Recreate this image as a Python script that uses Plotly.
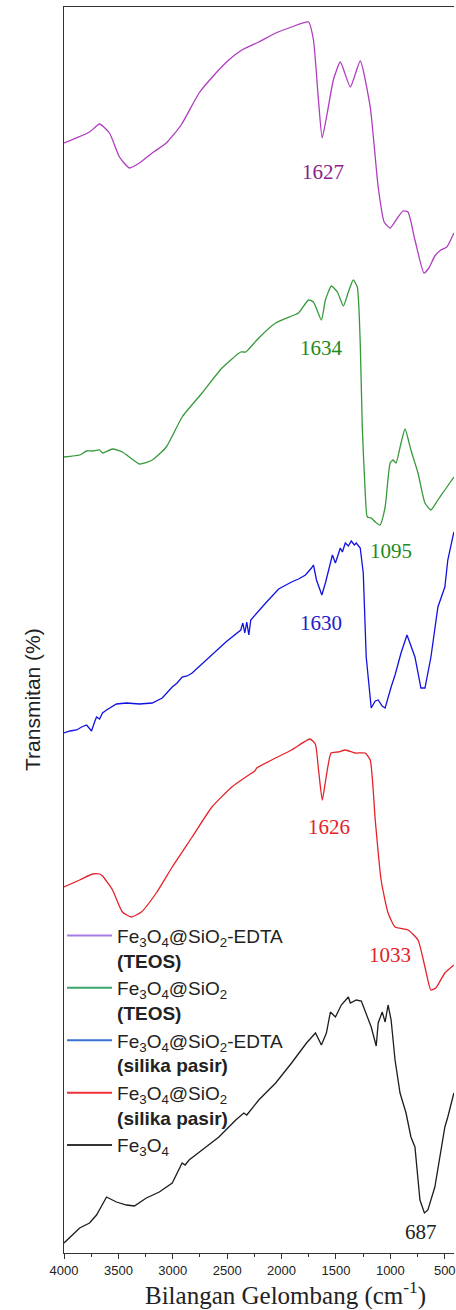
import plotly.graph_objects as go

# FTIR spectra, offset vertically (arbitrary transmittance units)
wn_edta_teos = [4000, 3765, 3673, 3582, 3490, 3399, 3307, 3189, 3060, 2923, 2758, 2603, 2485,
                2365, 2210, 2054, 1908, 1752, 1707, 1661, 1627, 1580, 1524, 1460, 1368, 1277,
                1185, 1112, 1057, 1002, 929, 884, 838, 774, 691, 646, 591, 536, 481, 416]
t_edta_teos = [1110, 1121, 1129, 1120, 1096, 1085, 1090, 1100, 1110, 1128, 1160, 1180, 1193,
               1203, 1211, 1220, 1226, 1231, 1213, 1153, 1115, 1140, 1173, 1191, 1166, 1192,
               1146, 1066, 1031, 1025, 1036, 1042, 1041, 1013, 980, 985, 997, 1003, 1006, 1020]

wn_sio2_teos = [4000, 3856, 3792, 3737, 3673, 3646, 3554, 3463, 3307, 3189, 3060, 2914, 2731,
                2548, 2375, 2329, 2301, 2210, 2054, 1908, 1844, 1752, 1707, 1634, 1597, 1542,
                1487, 1432, 1386, 1341, 1304, 1277, 1258, 1231, 1212, 1176, 1139, 1095, 1048,
                1002, 975, 948, 902, 865, 811, 746, 682, 627, 563, 499, 416]
t_sio2_teos = [796, 798, 802, 802, 803, 800, 804, 801, 789, 793, 806, 836, 860,
               885, 901, 901, 904, 915, 930, 937, 940, 953, 951, 933, 953, 967,
               961, 947, 961, 973, 966, 910, 826, 760, 736, 735, 731, 728, 746,
               790, 793, 790, 810, 824, 803, 780, 750, 743, 753, 763, 776]

wn_edta_pasir = [4000, 3945, 3884, 3838, 3792, 3765, 3747, 3719, 3701, 3673, 3646, 3609, 3563,
                 3518, 3426, 3307, 3189, 3097, 3005, 2960, 2914, 2868, 2822, 2667, 2512, 2375,
                 2356, 2338, 2320, 2301, 2283, 2146, 2027, 1908, 1844, 1780, 1743, 1725, 1707,
                 1679, 1630, 1597, 1551, 1533, 1505, 1460, 1441, 1414, 1386, 1359, 1331, 1313,
                 1277, 1249, 1222, 1176, 1139, 1112, 1075, 1048, 993, 957, 902, 847, 774, 719,
                 682, 627, 563, 499, 472, 444, 416]
t_edta_pasir = [520, 522, 523, 526, 528, 524, 522, 531, 536, 534, 540, 543, 546,
                549, 550, 549, 550, 555, 566, 570, 576, 577, 580, 596, 611, 623,
                630, 620, 631, 618, 633, 650, 664, 671, 674, 678, 682, 685, 688,
                673, 658, 670, 690, 698, 690, 705, 701, 710, 707, 712, 708, 710,
                705, 680, 596, 545, 552, 553, 547, 545, 566, 578, 600, 618, 596, 565,
                565, 596, 646, 666, 693, 708, 721]

wn_sio2_pasir = [4000, 3856, 3737, 3673, 3646, 3554, 3463, 3381, 3289, 3152, 3005, 2822, 2640,
                 2457, 2274, 2246, 2228, 2091, 1908, 1740, 1690, 1660, 1626, 1590, 1545, 1480,
                 1414, 1322, 1231, 1185, 1139, 1085, 1021, 957, 838, 746, 682, 627, 582, 499, 416]
t_sio2_pasir = [366, 373, 379, 379, 377, 363, 341, 336, 341, 360, 386, 416, 446,
                466, 480, 482, 485, 493, 503, 514, 509, 483, 453, 476, 500, 501,
                503, 500, 500, 493, 433, 373, 340, 326, 323, 313, 286, 263, 265, 280, 288]

wn_fe3o4 = [4000, 3918, 3856, 3765, 3701, 3609, 3518, 3426, 3353, 3243, 3124, 3005, 2914,
            2887, 2850, 2731, 2576, 2421, 2347, 2320, 2210, 2054, 1908, 1771, 1688, 1634,
            1588, 1551, 1505, 1451, 1386, 1368, 1313, 1267, 1203, 1176, 1130, 1112, 1075,
            1048, 1021, 993, 957, 911, 856, 811, 774, 728, 687, 655, 591, 536, 499, 472, 416]
t_fe3o4 = [10, 18, 25, 30, 38, 56, 51, 48, 47, 55, 61, 70, 90,
           88, 93, 103, 116, 133, 140, 138, 153, 170, 190, 210, 220, 208,
           220, 241, 236, 248, 256, 250, 253, 252, 233, 226, 207, 230, 241,
           231, 248, 233, 193, 160, 140, 116, 106, 53, 40, 43, 66, 100, 126, 136, 160]

series = [
    (wn_edta_teos, t_edta_teos, "#b03cc0", "#a77be6",
     "Fe<sub>3</sub>O<sub>4</sub>@SiO<sub>2</sub>-EDTA<br><b>(TEOS)</b>", "spline"),
    (wn_sio2_teos, t_sio2_teos, "#36993a", "#3aa56c",
     "Fe<sub>3</sub>O<sub>4</sub>@SiO<sub>2</sub><br><b>(TEOS)</b>", "spline"),
    (wn_edta_pasir, t_edta_pasir, "#1212e0", "#3a72d4",
     "Fe<sub>3</sub>O<sub>4</sub>@SiO<sub>2</sub>-EDTA<br><b>(silika pasir)</b>", "linear"),
    (wn_sio2_pasir, t_sio2_pasir, "#e4222a", "#ee3038",
     "Fe<sub>3</sub>O<sub>4</sub>@SiO<sub>2</sub><br><b>(silika pasir)</b>", "spline"),
    (wn_fe3o4, t_fe3o4, "#1c1c1c", "#333333",
     "Fe<sub>3</sub>O<sub>4</sub>", "linear"),
]

# band labels: (text, wavenumber, height, colour)
band_labels = [
    ("1627", 1615, 1081, "#8a1e8c"),
    ("1634", 1634, 905, "#1e8a22"),
    ("1095", 993, 702, "#1e8a22"),
    ("1630", 1640, 630, "#2020c8"),
    ("1626", 1560, 426, "#e52228"),
    ("1033", 1002, 298, "#e52228"),
    ("687", 719, 21, "#222222"),
]

fig = go.Figure()
for wn, t, col, _, _, shape in series:
    line = dict(color=col, width=1.3, shape=shape)
    if shape == "spline":
        line["smoothing"] = 0.5
    fig.add_trace(go.Scatter(x=wn, y=t, mode="lines", line=line,
                             showlegend=False, hoverinfo="skip"))

# legend entries
for _, _, _, lcol, name, _ in series:
    fig.add_trace(go.Scatter(x=[None], y=[None], mode="lines",
                             line=dict(color=lcol, width=2), name=name))

for txt, x, y, col in band_labels:
    fig.add_annotation(x=x, y=y, text=txt, showarrow=False, xanchor="center", yanchor="middle",
                       font=dict(family="Liberation Serif, Times New Roman, serif", size=21, color=col))

fig.add_annotation(xref="paper", yref="paper", x=0.569, y=-0.0329,
                   text="Bilangan Gelombang (cm<sup>-1</sup>)", showarrow=False,
                   xanchor="center", yanchor="middle",
                   font=dict(family="Liberation Serif, Times New Roman, serif", size=25, color="#222222"))
fig.add_annotation(xref="paper", yref="paper", x=-0.079, y=0.444,
                   text="Transmitan (%)", showarrow=False, textangle=-90,
                   xanchor="center", yanchor="middle",
                   font=dict(family="Liberation Sans, Arial, sans-serif", size=21, color="#222222"))

fig.update_layout(
    width=456, height=1310,
    margin=dict(l=64, r=0, t=7, b=57),
    paper_bgcolor="white", plot_bgcolor="white",
    showlegend=True,
    legend=dict(x=-0.005, y=0.27, xanchor="left", yanchor="top",
                bgcolor="rgba(0,0,0,0)", valign="top", itemwidth=45,
                tracegroupgap=0, itemclick=False,
                font=dict(family="Liberation Sans, Arial, sans-serif", size=19, color="#222222")),
    xaxis=dict(range=[4000, 415], showgrid=False, zeroline=False,
               showline=True, linecolor="#333333", linewidth=1.3, mirror=True,
               ticks="outside", ticklen=5, tickwidth=1.2, tickcolor="#333333",
               tickvals=[4000, 3500, 3000, 2500, 2000, 1500, 1000, 500],
               ticklabeloverflow="allow",
               minor=dict(tickvals=[3750, 3250, 2750, 2250, 1750, 1250, 750],
                          ticks="outside", ticklen=3, tickcolor="#333333", tickwidth=1.1),
               tickfont=dict(family="Liberation Sans, Arial, sans-serif", size=13, color="#222222")),
    yaxis=dict(range=[0, 1246], showgrid=False, zeroline=False, showticklabels=False,
               showline=True, linecolor="#333333", linewidth=1.3, ticks=""),
)

fig.write_html("out.html")
